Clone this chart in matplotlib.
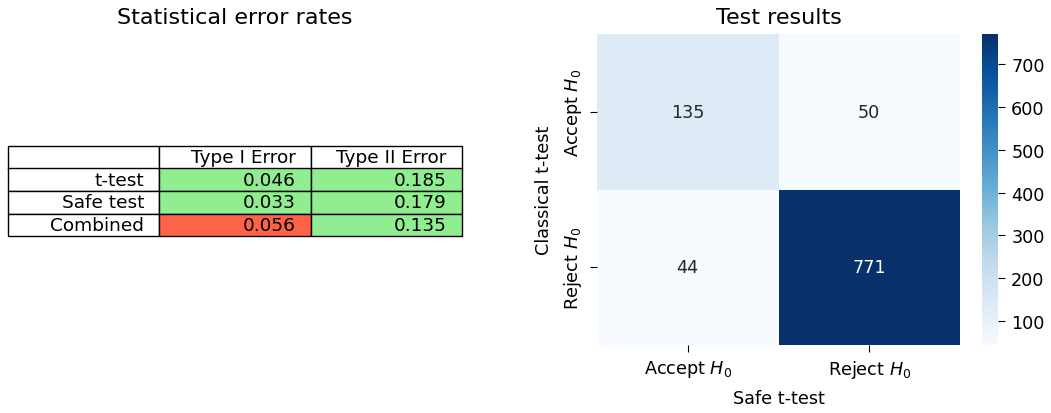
import matplotlib
matplotlib.use("Agg")
import matplotlib.pyplot as plt
import numpy as np
import seaborn as sns

# === Data ===
TESTS = ["t-test", "Safe test", "Combined"]
ERROR_COLS = ["Type I Error", "Type II Error"]
TYPE1 = [0.046, 0.033, 0.056]
TYPE2 = [0.185, 0.179, 0.135]
ALPHA = 0.05   # type I above this is flagged red

DECISIONS = ["Accept $H_0$", "Reject $H_0$"]
COUNTS = [[135, 50],
          [44, 771]]

W, H = 1051, 414
FS = 12.7
fig = plt.figure(figsize=(W / 100, H / 100), dpi=100)

# --- left: table of error rates ---
ax1 = fig.add_axes([8 / W, (H - 346) / H, 454 / W, 311 / H])
ax1.axis("off")
ax1.set_title("Statistical error rates", fontsize=16, pad=8)

cell_text = [[""] + ERROR_COLS]
cell_colours = [["white"] * 3]
for name, e1, e2 in zip(TESTS, TYPE1, TYPE2):
    cell_text.append([name, f"{e1:.3f}", f"{e2:.3f}"])
    c1 = "tomato" if e1 > ALPHA else "lightgreen"
    cell_colours.append(["white", c1, "lightgreen"])

tbl = ax1.table(cellText=cell_text, cellColours=cell_colours, cellLoc="right",
                bbox=[0, 109 / 311, 1, 90 / 311])
tbl.auto_set_font_size(False)
tbl.set_fontsize(13.3)

# --- right: heatmap of decisions ---
ax2 = fig.add_axes([597 / W, (H - 346) / H, 363 / W, 311 / H])
cax = fig.add_axes([982 / W, (H - 346) / H, 16 / W, 311 / H])
sns.heatmap(np.array(COUNTS), annot=True, fmt="d", cmap="Blues", ax=ax2, cbar_ax=cax,
            xticklabels=DECISIONS, yticklabels=DECISIONS, annot_kws={"fontsize": FS})
ax2.set_title("Test results", fontsize=16, pad=8)
ax2.set_xlabel("Safe t-test", fontsize=FS, labelpad=6)
ax2.set_ylabel("Classical t-test", fontsize=FS, labelpad=6)
ax2.tick_params(labelsize=FS, length=5, pad=4.5)
plt.setp(ax2.get_yticklabels(), rotation=90, va="center")
plt.setp(ax2.get_xticklabels(), rotation=0)
cax.tick_params(labelsize=FS, length=5, pad=4.5)

fig.savefig("out.png", dpi=100)
